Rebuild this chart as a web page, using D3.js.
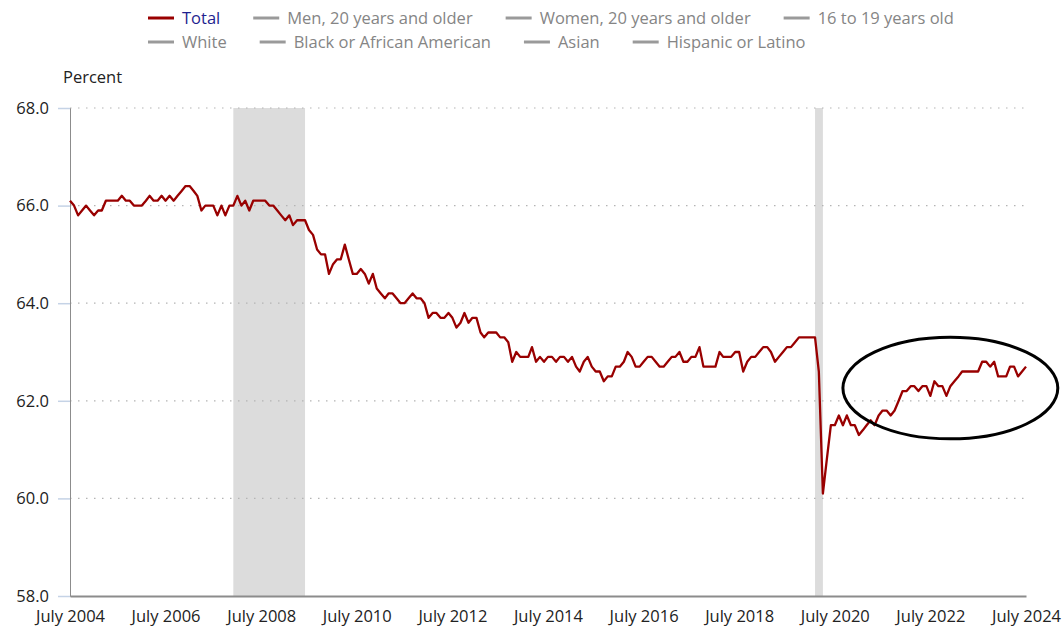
<!DOCTYPE html>
<html><head><meta charset="utf-8">
<script src="https://cdn.jsdelivr.net/npm/d3@7"></script>
<style>
body{margin:0;background:#fff;}
text{font-family:"Open Sans",sans-serif;}
</style></head>
<body><svg id="c" width="1062" height="629"></svg>
<script>
// Labor force participation rate, Total, monthly July 2004 – July 2024
const startMonth = "2004-07";
const values2004 = [66.1,66.0,65.8,65.9,66.0,65.9];
const values2005 = [65.8,65.9,65.9,66.1,66.1,66.1,66.1,66.2,66.1,66.1,66.0,66.0];
const values2006 = [66.0,66.1,66.2,66.1,66.1,66.2,66.1,66.2,66.1,66.2,66.3,66.4];
const values2007 = [66.4,66.3,66.2,65.9,66.0,66.0,66.0,65.8,66.0,65.8,66.0,66.0];
const values2008 = [66.2,66.0,66.1,65.9,66.1,66.1,66.1,66.1,66.0,66.0,65.9,65.8];
const values2009 = [65.7,65.8,65.6,65.7,65.7,65.7,65.5,65.4,65.1,65.0,65.0,64.6];
const values2010 = [64.8,64.9,64.9,65.2,64.9,64.6,64.6,64.7,64.6,64.4,64.6,64.3];
const values2011 = [64.2,64.1,64.2,64.2,64.1,64.0,64.0,64.1,64.2,64.1,64.1,64.0];
const values2012 = [63.7,63.8,63.8,63.7,63.7,63.8,63.7,63.5,63.6,63.8,63.6,63.7];
const values2013 = [63.7,63.4,63.3,63.4,63.4,63.4,63.3,63.3,63.2,62.8,63.0,62.9];
const values2014 = [62.9,62.9,63.1,62.8,62.9,62.8,62.9,62.9,62.8,62.9,62.9,62.8];
const values2015 = [62.9,62.7,62.6,62.8,62.9,62.7,62.6,62.6,62.4,62.5,62.5,62.7];
const values2016 = [62.7,62.8,63.0,62.9,62.7,62.7,62.8,62.9,62.9,62.8,62.7,62.7];
const values2017 = [62.8,62.9,62.9,63.0,62.8,62.8,62.9,62.9,63.1,62.7,62.7,62.7];
const values2018 = [62.7,63.0,62.9,62.9,62.9,63.0,63.0,62.6,62.8,62.9,62.9,63.0];
const values2019 = [63.1,63.1,63.0,62.8,62.9,63.0,63.1,63.1,63.2,63.3,63.3,63.3];
const values2020 = [63.3,63.3,62.6,60.1,60.8,61.5,61.5,61.7,61.5,61.7,61.5,61.5];
const values2021 = [61.3,61.4,61.5,61.6,61.5,61.7,61.8,61.8,61.7,61.8,62.0,62.2];
const values2022 = [62.2,62.3,62.3,62.2,62.3,62.3,62.1,62.4,62.3,62.3,62.1,62.3];
const values2023 = [62.4,62.5,62.6,62.6,62.6,62.6,62.6,62.8,62.8,62.7,62.8,62.5];
const values2024 = [62.5,62.5,62.7,62.7,62.5,62.6,62.7];

const yTicks = [58.0,60.0,62.0,64.0,66.0,68.0];
const xTickYears = [2004,2006,2008,2010,2012,2014,2016,2018,2020,2022,2024];
const recessions = [["2007-12","2009-06"],["2020-02","2020-04"]];
const legendRow1 = ["Total","Men, 20 years and older","Women, 20 years and older","16 to 19 years old"];
const legendRow2 = ["White","Black or African American","Asian","Hispanic or Latino"];
const highlight = {center:"2022-12", value:62.26, monthsRadius:27, valueRadius:1.04};

const allValues = [].concat(values2004,values2005,values2006,values2007,values2008,values2009,values2010,
  values2011,values2012,values2013,values2014,values2015,values2016,values2017,values2018,values2019,
  values2020,values2021,values2022,values2023,values2024);
const parseM = d3.timeParse("%Y-%m");
const t0 = parseM(startMonth);
const data = allValues.map((v,i)=>({date:d3.timeMonth.offset(t0,i), v}));

const svg = d3.select("#c");
const L=70, R=1026, T=108, B=596;
const FS = 16.5;
const x = d3.scaleTime().domain([t0, parseM("2024-07")]).range([L,R]);
const y = d3.scaleLinear().domain([58,68]).range([B,T]);

// recessions
svg.append("g").selectAll("rect").data(recessions).join("rect")
  .attr("x",d=>x(parseM(d[0]))).attr("width",d=>x(parseM(d[1]))-x(parseM(d[0])))
  .attr("y",T).attr("height",B-T).attr("fill","#dcdcdc");

// grid
svg.append("g").selectAll("line").data(yTicks.filter(d=>d>58)).join("line")
  .attr("x1",L).attr("x2",R+2).attr("y1",d=>y(d)).attr("y2",d=>y(d))
  .attr("stroke","#b4b4b4").attr("stroke-width",1.2).attr("stroke-dasharray","1.5,6.5");

// y axis
const yAx = svg.append("g").attr("transform",`translate(${L},0)`)
  .call(d3.axisLeft(y).tickValues(yTicks).tickFormat(d3.format(".1f")).tickSize(12).tickPadding(9));
yAx.select(".domain").attr("stroke","#8c8c8c").attr("stroke-width",1);
yAx.selectAll(".tick line").attr("stroke","#c5d3e6").attr("stroke-width",1.5);
yAx.selectAll("text").attr("font-size",FS).attr("fill","#222").attr("font-family","Open Sans");

// x axis
const xAx = svg.append("g").attr("transform",`translate(0,${B})`)
  .call(d3.axisBottom(x).tickValues(xTickYears.map(yr=>new Date(yr,6,1))).tickFormat(d=>"July "+d.getFullYear()).tickSize(0).tickPadding(14));
xAx.select(".domain").attr("stroke","#8c8c8c").attr("stroke-width",2);
xAx.selectAll("text").attr("font-size",FS).attr("fill","#222").attr("font-family","Open Sans");

svg.append("text").attr("x",63).attr("y",83).attr("font-size",FS).attr("fill","#222").text("Percent");

// line
svg.append("path").datum(data)
  .attr("d",d3.line().x(d=>x(d.date)).y(d=>y(d.v)))
  .attr("fill","none").attr("stroke","#990000").attr("stroke-width",2.3).attr("stroke-linejoin","round");

// highlight ellipse
const cx = x(parseM(highlight.center));
svg.append("ellipse").attr("cx",cx).attr("cy",y(highlight.value))
  .attr("rx",x(d3.timeMonth.offset(parseM(highlight.center),highlight.monthsRadius))-cx)
  .attr("ry",y(highlight.value-highlight.valueRadius)-y(highlight.value))
  .attr("fill","none").attr("stroke","#000").attr("stroke-width",3);

// legend
function legendRow(items, yPos, startX, gap){
  let xx = startX;
  const g = svg.append("g");
  items.forEach((name)=>{
    const isTotal = name==="Total";
    g.append("line").attr("x1",xx).attr("x2",xx+26).attr("y1",yPos).attr("y2",yPos)
      .attr("stroke",isTotal?"#990000":"#9a9a9a").attr("stroke-width",3);
    const t = g.append("text").attr("x",xx+34).attr("y",yPos+6).attr("font-size",FS)
      .attr("fill",isTotal?"#1f1f8f":"#858585").text(name);
    xx = xx+34+t.node().getComputedTextLength()+gap;
  });
}
legendRow(legendRow1, 18, 148, 33);
legendRow(legendRow2, 42, 148, 33);
</script></body></html>
